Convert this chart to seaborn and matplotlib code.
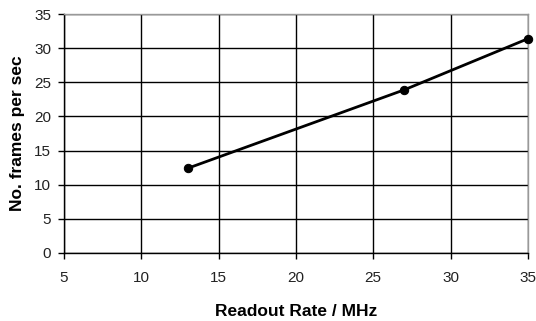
import matplotlib
matplotlib.use("Agg")
import matplotlib.pyplot as plt
import seaborn as sns
import pandas as pd

readout_rate = [13, 27, 35]
frames_per_sec = [12.4, 23.9, 31.4]

x_ticks = [5, 10, 15, 20, 25, 30, 35]
y_ticks = [0, 5, 10, 15, 20, 25, 30, 35]

sns.set_style("white")
plt.rcParams['font.family'] = ['Liberation Sans', 'DejaVu Sans']
plt.rcParams['text.color'] = 'black'
plt.rcParams['axes.labelcolor'] = 'black'
plt.rcParams['xtick.color'] = 'black'
plt.rcParams['ytick.color'] = 'black'

df = pd.DataFrame({'rate': readout_rate, 'fps': frames_per_sec})

fig = plt.figure(figsize=(5.36, 3.21), dpi=100)
ax = fig.add_axes([0.119, 0.212, 0.866, 0.744])

sns.lineplot(data=df, x='rate', y='fps', color='black', linewidth=2,
             marker='o', markersize=6, markeredgecolor='black', ax=ax,
             clip_on=False, zorder=5)

ax.set_xlim(5, 35)
ax.set_ylim(0, 35)
ax.set_xticks(x_ticks)
ax.set_yticks(y_ticks)
ax.grid(True, color='black', linewidth=1)
ax.set_axisbelow(True)

for side in ['top', 'right']:
    ax.spines[side].set_color('#999999')
    ax.spines[side].set_linewidth(1)
for side in ['left', 'bottom']:
    ax.spines[side].set_color('black')
    ax.spines[side].set_linewidth(1)

ax.tick_params(axis='both', direction='out', length=4, width=1, color='black',
               labelcolor='#222222', labelsize=11, left=True, bottom=True)
ax.tick_params(axis='x', pad=9)
ax.tick_params(axis='y', pad=5)

ax.set_xlabel('Readout Rate / MHz', fontsize=12.5, fontweight='bold', labelpad=14)
ax.set_ylabel('No. frames per sec', fontsize=12.5, fontweight='bold', labelpad=7)

fig.savefig('out.png', dpi=100)
